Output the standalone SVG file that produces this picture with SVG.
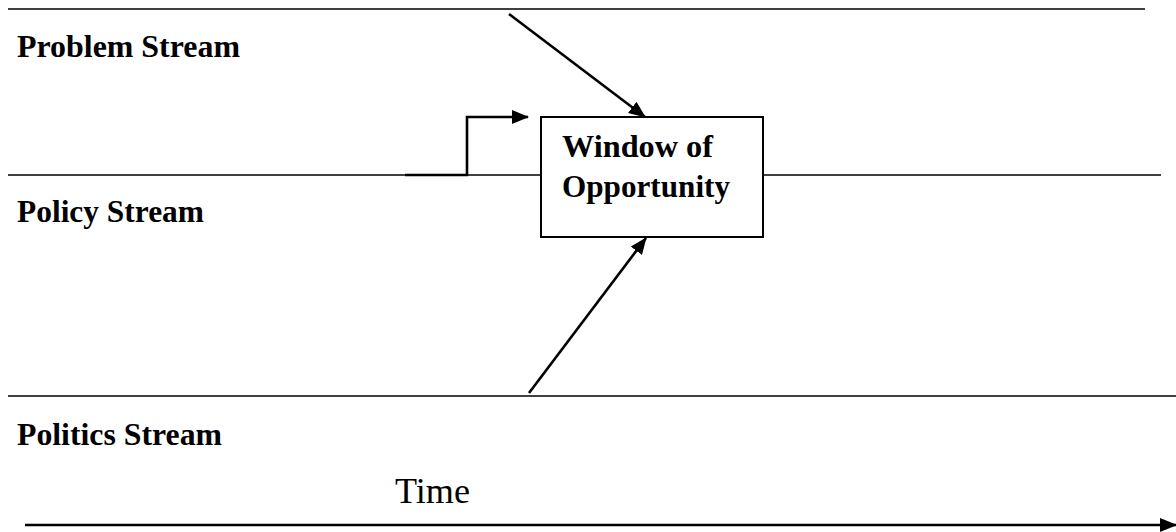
<svg xmlns="http://www.w3.org/2000/svg" width="1176" height="532" viewBox="0 0 1176 532">
<style>
.lane{stroke:#000;stroke-width:1.3;fill:none}
.conn{stroke:#000;stroke-width:2.6;fill:none}
.lbl{font-family:"Liberation Serif","Times New Roman",serif;font-weight:bold;font-size:32px;fill:#000}
.time{font-family:"Liberation Serif","Times New Roman",serif;font-size:35px;fill:#000}
.box{fill:#fff;stroke:#000;stroke-width:2}
</style>
<defs>
<marker id="ah" markerUnits="userSpaceOnUse" markerWidth="17" markerHeight="14" refX="16" refY="7" orient="auto">
<path d="M0,0 L17,7 L0,14 z" fill="#000"/>
</marker>
</defs>
<rect width="1176" height="532" fill="#fff"/>
<g id="lanes">
<line class="lane" x1="8" y1="9" x2="1145" y2="9"/>
<line class="lane" x1="8" y1="175" x2="1161" y2="175"/>
<line class="lane" x1="8" y1="396" x2="1176" y2="396"/>
</g>
<g id="problem-stream"><text class="lbl" x="17" y="57" textLength="223" lengthAdjust="spacingAndGlyphs">Problem Stream</text></g>
<g id="policy-stream"><text class="lbl" x="17" y="222" textLength="187" lengthAdjust="spacingAndGlyphs">Policy Stream</text></g>
<g id="politics-stream"><text class="lbl" x="17" y="445" textLength="205" lengthAdjust="spacingAndGlyphs">Politics Stream</text></g>
<g id="window">
<rect class="box" x="541" y="117" width="222" height="120"/>
<text class="lbl" x="562" y="157" textLength="151" lengthAdjust="spacingAndGlyphs">Window of</text>
<text class="lbl" x="562" y="197" textLength="168" lengthAdjust="spacingAndGlyphs">Opportunity</text>
</g>
<g id="time"><text class="time" x="395" y="503" textLength="75" lengthAdjust="spacingAndGlyphs">Time</text></g>
<g id="connectors">
<line class="conn" x1="509" y1="14" x2="645" y2="117" marker-end="url(#ah)"/>
<polyline class="conn" points="405,175 467,175 467,117 528,117" marker-end="url(#ah)"/>
<line class="conn" x1="529" y1="393" x2="646" y2="238" marker-end="url(#ah)"/>
<line class="conn" x1="25" y1="525" x2="1176" y2="525" stroke-width="3" marker-end="url(#ah)"/>
</g>
</svg>
